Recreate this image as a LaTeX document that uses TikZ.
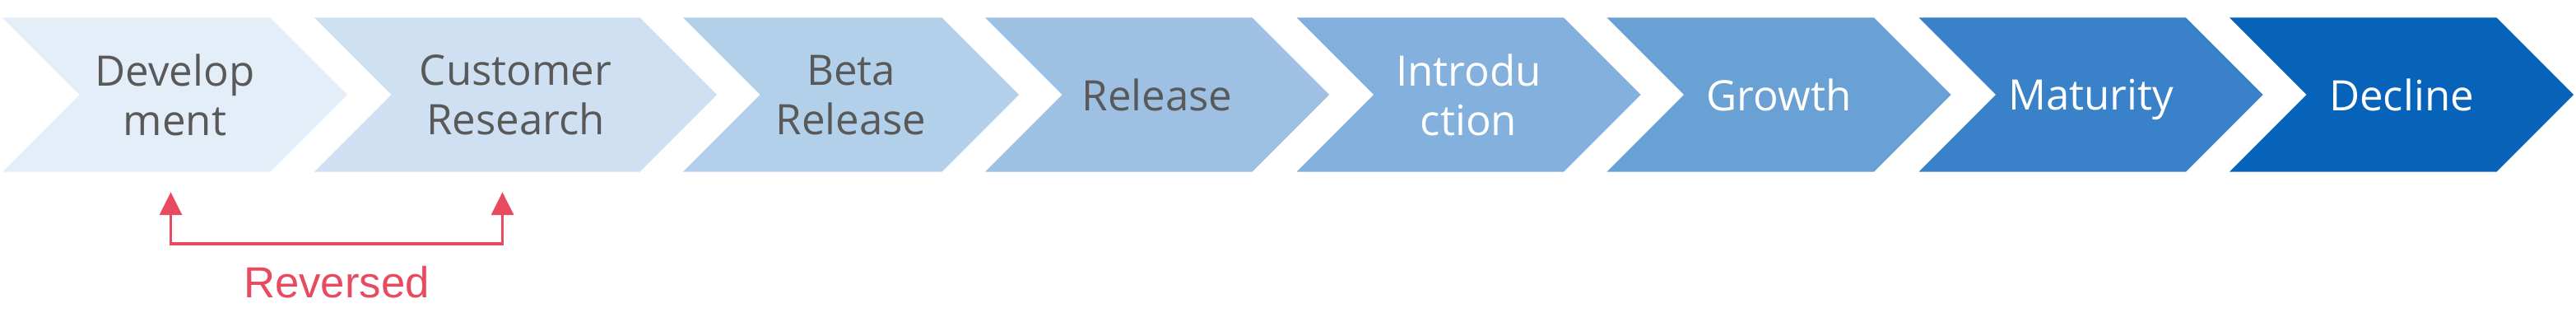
\documentclass[tikz,border=0pt]{standalone}
\usepackage{fontspec}
\setmainfont{Open Sans}
\newfontfamily\revfont{Liberation Sans}
\usetikzlibrary{arrows.meta, positioning, shapes.symbols}
\definecolor{S1}{RGB}{227,238,248}
\definecolor{S2}{RGB}{206,224,241}
\definecolor{S3}{RGB}{179,208,234}
\definecolor{S4}{RGB}{157,192,227}
\definecolor{S5}{RGB}{131,176,220}
\definecolor{S6}{RGB}{106,161,213}
\definecolor{S7}{RGB}{57,130,202}
\definecolor{S8}{RGB}{7,98,185}
\definecolor{TG}{RGB}{89,89,89}
\definecolor{RR}{RGB}{232,74,95}

\begin{document}
\begin{tikzpicture}[
  stage/.style={signal, signal to=east, signal from=west,
                signal pointer angle=90, fill=#1, draw=none,
                minimum width=4.18cm, minimum height=1.87cm,
                inner sep=0pt, text depth=0pt, align=center,
                font=\fontsize{14.5}{17}\selectfont},
  dark/.style={text=TG},
  light/.style={text=white},
  rev/.style={{Triangle[length=0.28cm,width=0.27cm]}-{Triangle[length=0.28cm,width=0.27cm]},
              draw=RR, line width=1pt}
]
\useasboundingbox (0,0) rectangle (31.3,-4.07);

% Stages
\node[stage=S1, dark, minimum width=4.19cm] (dev) at (2.125,-1.15) {Develop\\ment};
\node[stage=S2, dark, minimum width=4.89cm] (cust) at (6.265,-1.15) {Customer\\Research};
\node[stage=S3, dark, minimum width=4.08cm] (beta) at (10.34,-1.15) {Beta\\Release};
\node[stage=S4, dark] (rel) at (14.06,-1.15) {Release};
\node[stage=S5, light] (intro) at (17.845,-1.15) {Introdu\\ction};
\node[stage=S6, light] (grow) at (21.615,-1.15) {Growth};
\node[stage=S7, light] (mat) at (25.405,-1.15) {Maturity};
\node[stage=S8, light] (dec) at (29.18,-1.15) {Decline};

% Reversed
\draw[rev] ([xshift=-0.05cm,yshift=-0.24cm]dev.south) -- ++(0,-0.63)
  -| ([xshift=-0.16cm,yshift=-0.24cm]cust.south)
  node[pos=0.25, below=0.25cm, inner sep=0pt, text=RR,
       font=\revfont\fontsize{15}{18}\selectfont] (revlbl) {Reversed};
\end{tikzpicture}
\end{document}
